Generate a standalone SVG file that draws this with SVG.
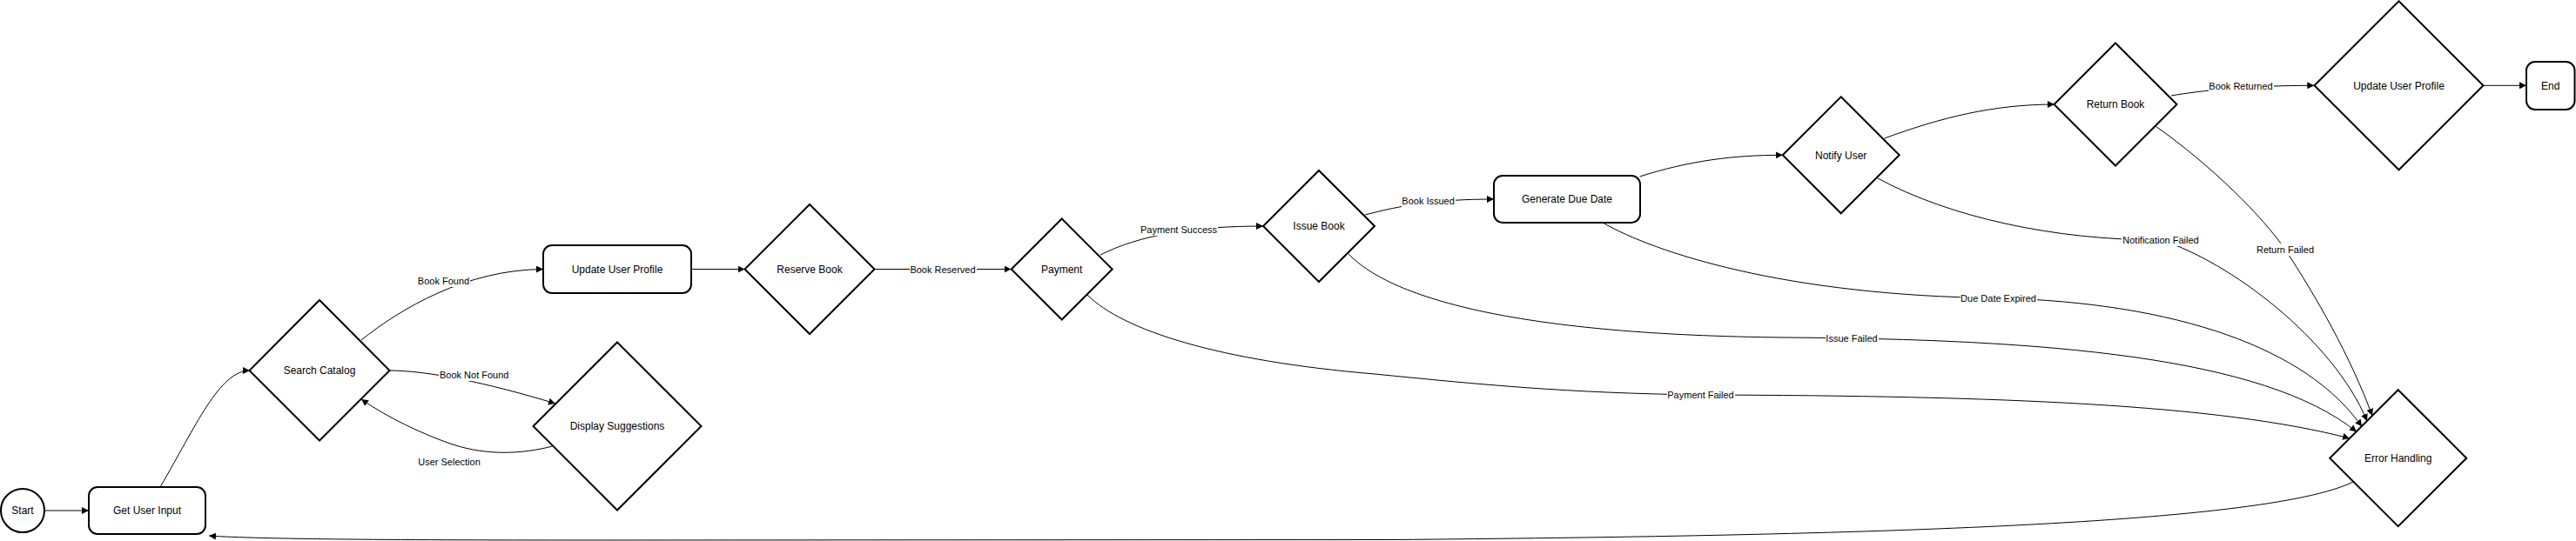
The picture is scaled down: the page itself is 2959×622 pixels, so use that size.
<svg xmlns="http://www.w3.org/2000/svg" width="2959" height="622" viewBox="0 0 2959 622">
<style>
  .shape { fill: #ffffff; stroke: #000000; stroke-width: 2; }
  .ntext { font-family: "Liberation Sans", Arial, sans-serif; font-size: 12px; fill: #000000; text-anchor: middle; }
  .edge { fill: none; stroke: #000000; stroke-width: 1; marker-end: url(#arrow); }
  .lbg { fill: #ffffff; stroke: none; }
  .ltext { font-family: "Liberation Sans", Arial, sans-serif; font-size: 11px; fill: #000000; text-anchor: middle; }
</style>
<defs>
  <marker id="arrow" viewBox="0 0 10 10" refX="10" refY="5" markerWidth="8" markerHeight="8" markerUnits="userSpaceOnUse" orient="auto">
    <path d="M0,0 L10,5 L0,10 z" fill="#000000"/>
  </marker>
</defs>
<rect x="0" y="0" width="2959" height="622" fill="#ffffff"/>

<g id="edges">
  <path id="e-start-input" class="edge" d="M51,587 L102,587"/>
  <path id="e-input-search" class="edge" d="M184,560 C225,490 252,426 287,426"/>
  <path id="e-search-update" class="edge" d="M415,391 C460,355 535,310 624,309.5"/>
  <path id="e-search-suggest" class="edge" d="M447.5,426 C490,426 560,440 638,464"/>
  <path id="e-suggest-search" class="edge" d="M634.6,513 C600,522 560,524 520,511 C485,499 445,480 415,459"/>
  <path id="e-update-reserve" class="edge" d="M794,309.5 L855.5,309.5"/>
  <path id="e-reserve-payment" class="edge" d="M1004.5,309.5 L1161.5,309.5"/>
  <path id="e-payment-issue" class="edge" d="M1264,293 C1310,270 1370,260 1451,260"/>
  <path id="e-issue-due" class="edge" d="M1568,247 C1610,236 1650,229 1716,229"/>
  <path id="e-due-notify" class="edge" d="M1883.5,203 C1940,185 1990,178.3 2047.8,178.3"/>
  <path id="e-notify-return" class="edge" d="M2164.7,159 C2230,135 2290,120 2360,120"/>
  <path id="e-return-update2" class="edge" d="M2494,110 C2530,104 2580,98.3 2658.3,98.3"/>
  <path id="e-update2-end" class="edge" d="M2852.7,98.3 L2902,98.3"/>
  <path id="e-payment-error" class="edge" d="M1249,339 C1290,380 1400,415 1579,430 C1700,442 1800,452 1954,454 C2300,455 2550,465 2699,504"/>
  <path id="e-issue-error" class="edge" d="M1549,292 C1600,345 1750,385 2050,388 C2350,390 2600,410 2707,496.5"/>
  <path id="e-due-error" class="edge" d="M1841,256 C1900,290 2050,340 2295,342.7 C2500,348 2650,400 2713,490.5"/>
  <path id="e-notify-error" class="edge" d="M2157,205 C2240,250 2360,276 2482,276 C2560,300 2680,390 2719,484"/>
  <path id="e-return-error" class="edge" d="M2476,145 C2540,190 2600,250 2625,287 C2660,340 2700,410 2725,478"/>
  <path id="e-error-input" class="edge" d="M2703,554 C2600,605 2100,616 1600,620.5 L700,621 C450,621 300,620 240,616"/>
</g>

<g id="edge-labels">
  <g id="l-book-found"><rect class="lbg" x="479" y="316" width="61" height="14"/><text class="ltext" x="509.5" y="327">Book Found</text></g>
  <g id="l-book-not-found"><rect class="lbg" x="504" y="424" width="81" height="14"/><text class="ltext" x="544.7" y="435">Book Not Found</text></g>
  <g id="l-user-selection"><text class="ltext" x="516" y="535">User Selection</text></g>
  <g id="l-book-reserved"><rect class="lbg" x="1045" y="303" width="77" height="14"/><text class="ltext" x="1083" y="314">Book Reserved</text></g>
  <g id="l-payment-success"><rect class="lbg" x="1310" y="257" width="89" height="14"/><text class="ltext" x="1354" y="268">Payment Success</text></g>
  <g id="l-book-issued"><rect class="lbg" x="1610" y="224" width="62" height="14"/><text class="ltext" x="1640.6" y="235">Book Issued</text></g>
  <g id="l-book-returned"><rect class="lbg" x="2537" y="92" width="75" height="14"/><text class="ltext" x="2574" y="103">Book Returned</text></g>
  <g id="l-payment-failed"><rect class="lbg" x="1915" y="447" width="78" height="14"/><text class="ltext" x="1953.5" y="458">Payment Failed</text></g>
  <g id="l-issue-failed"><rect class="lbg" x="2097" y="382" width="61" height="14"/><text class="ltext" x="2127" y="393">Issue Failed</text></g>
  <g id="l-due-expired"><rect class="lbg" x="2252" y="336" width="88" height="14"/><text class="ltext" x="2295.5" y="347">Due Date Expired</text></g>
  <g id="l-notify-failed"><rect class="lbg" x="2437" y="269" width="91" height="14"/><text class="ltext" x="2482" y="280">Notification Failed</text></g>
  <g id="l-return-failed"><rect class="lbg" x="2592" y="280" width="67" height="14"/><text class="ltext" x="2625" y="291">Return Failed</text></g>
</g>

<g id="node-start"><circle class="shape" cx="26" cy="587" r="25"/><text class="ntext" x="26" y="591.3">Start</text></g>
<g id="node-get-input"><rect class="shape" x="102" y="560" width="134" height="54" rx="10" ry="10"/><text class="ntext" x="169" y="591.3">Get User Input</text></g>
<g id="node-search"><polygon class="shape" points="367,345 447.5,426 367,506.5 286.5,426"/><text class="ntext" x="367" y="430.3">Search Catalog</text></g>
<g id="node-update-profile"><rect class="shape" x="624" y="282" width="170" height="55" rx="10" ry="10"/><text class="ntext" x="709" y="313.8">Update User Profile</text></g>
<g id="node-suggestions"><polygon class="shape" points="709,393.5 805.5,490 709,586.5 612.5,490"/><text class="ntext" x="709" y="494.3">Display Suggestions</text></g>
<g id="node-reserve"><polygon class="shape" points="930,235 1004.5,309.5 930,384 855.5,309.5"/><text class="ntext" x="930" y="313.8">Reserve Book</text></g>
<g id="node-payment"><polygon class="shape" points="1219.7,251.5 1277.7,309.5 1219.7,367.5 1161.7,309.5"/><text class="ntext" x="1219.7" y="313.8">Payment</text></g>
<g id="node-issue"><polygon class="shape" points="1515,196 1579,260 1515,324 1451,260"/><text class="ntext" x="1515" y="264.3">Issue Book</text></g>
<g id="node-due-date"><rect class="shape" x="1716" y="202" width="168" height="54" rx="10" ry="10"/><text class="ntext" x="1800" y="233.3">Generate Due Date</text></g>
<g id="node-notify"><polygon class="shape" points="2114.7,111.3 2181.7,178.3 2114.7,245.3 2047.7,178.3"/><text class="ntext" x="2114.7" y="182.6">Notify User</text></g>
<g id="node-return"><polygon class="shape" points="2430,49.5 2500.5,120 2430,190.5 2359.5,120"/><text class="ntext" x="2430" y="124.3">Return Book</text></g>
<g id="node-update-profile-2"><polygon class="shape" points="2755.5,1.3 2852.5,98.3 2755.5,195.3 2658.5,98.3"/><text class="ntext" x="2755.5" y="102.6">Update User Profile</text></g>
<g id="node-end"><rect class="shape" x="2902" y="71" width="55.5" height="55" rx="10" ry="10"/><text class="ntext" x="2929.8" y="102.6">End</text></g>
<g id="node-error"><polygon class="shape" points="2754.7,448.2 2833.2,526.7 2754.7,605.2 2676.2,526.7"/><text class="ntext" x="2754.7" y="531">Error Handling</text></g>
</svg>
